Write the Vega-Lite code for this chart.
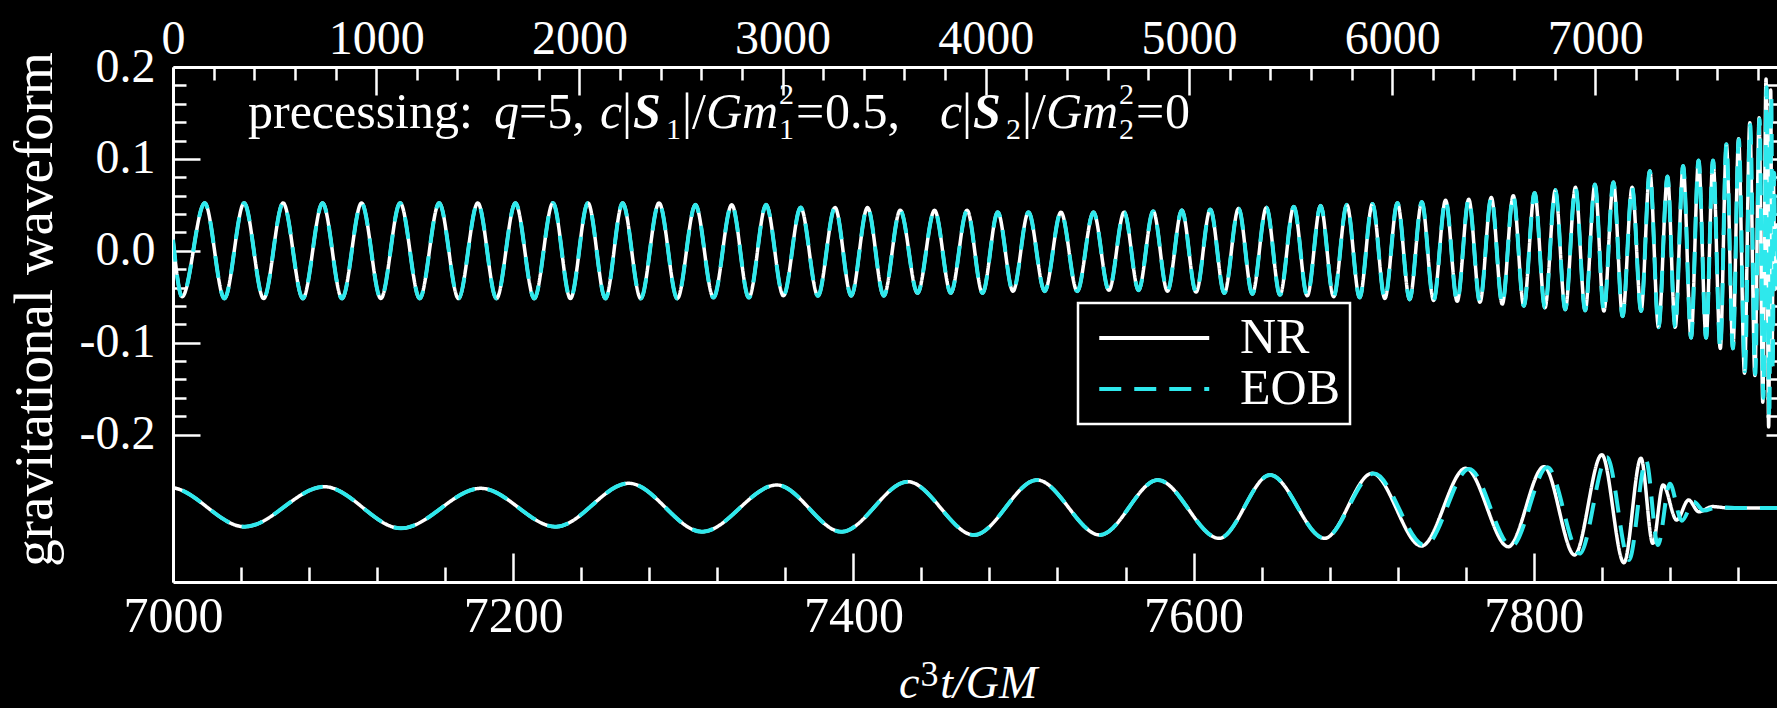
{
  "$schema": "https://vega.github.io/schema/vega-lite/v6.json",
  "background": "black",
  "autosize": {"type": "none"},
  "padding": {"left": 173, "top": 67, "right": 0, "bottom": 126},
  "width": 1604,
  "height": 515,
  "config": {
    "view": {"stroke": null},
    "axis": {
      "grid": false,
      "labelFont": "Liberation Serif",
      "labelColor": "white",
      "labelFontSize": 48,
      "labelFlush": false,
      "labelOverlap": false,
      "labelBound": false,
      "tickColor": "white",
      "tickWidth": 2.5,
      "domainColor": "white",
      "domainWidth": 3,
      "titleFont": "Liberation Serif",
      "titleColor": "white",
      "titleFontWeight": "normal"
    },
    "text": {"font": "Liberation Serif", "color": "white", "align": "left", "baseline": "alphabetic"},
    "legend": {
      "padding": 10,
      "strokeColor": "white",
      "strokeWidth": 2.5,
      "fillColor": "black",
      "symbolType": "M-1,0H7",
      "symbolSize": 756,
      "symbolStrokeWidth": 4,
      "labelFont": "Liberation Serif",
      "labelFontSize": 50,
      "labelColor": "white",
      "labelOffset": 102,
      "labelLimit": 400,
      "rowPadding": 1
    }
  },
  "datasets": {
    "nr": [
      {"t": 0, "h": 0.012}, {"t": 45, "h": -0.05}, {"t": 156, "h": 0.052}, {"t": 253, "h": -0.052},
      {"t": 350, "h": 0.052}, {"t": 446, "h": -0.052}, {"t": 542, "h": 0.052}, {"t": 639, "h": -0.052},
      {"t": 736, "h": 0.052}, {"t": 832, "h": -0.052}, {"t": 928, "h": 0.052}, {"t": 1023, "h": -0.052},
      {"t": 1118, "h": 0.052}, {"t": 1214, "h": -0.052}, {"t": 1310, "h": 0.052}, {"t": 1405, "h": -0.052},
      {"t": 1500, "h": 0.052}, {"t": 1592, "h": -0.052}, {"t": 1685, "h": 0.052}, {"t": 1778, "h": -0.052},
      {"t": 1870, "h": 0.052}, {"t": 1956, "h": -0.052}, {"t": 2042, "h": 0.052}, {"t": 2128, "h": -0.052},
      {"t": 2213, "h": 0.052}, {"t": 2302, "h": -0.052}, {"t": 2392, "h": 0.052}, {"t": 2482, "h": -0.052},
      {"t": 2571, "h": 0.05}, {"t": 2660, "h": -0.051}, {"t": 2750, "h": 0.05}, {"t": 2834, "h": -0.051},
      {"t": 2919, "h": 0.05}, {"t": 3004, "h": -0.049}, {"t": 3089, "h": 0.047}, {"t": 3174, "h": -0.049},
      {"t": 3258, "h": 0.047}, {"t": 3338, "h": -0.049}, {"t": 3418, "h": 0.047}, {"t": 3498, "h": -0.049},
      {"t": 3579, "h": 0.044}, {"t": 3664, "h": -0.046}, {"t": 3748, "h": 0.044}, {"t": 3828, "h": -0.046},
      {"t": 3908, "h": 0.044}, {"t": 3984, "h": -0.046}, {"t": 4059, "h": 0.042}, {"t": 4134, "h": -0.044},
      {"t": 4210, "h": 0.042}, {"t": 4290, "h": -0.044}, {"t": 4370, "h": 0.042}, {"t": 4450, "h": -0.044},
      {"t": 4530, "h": 0.042}, {"t": 4606, "h": -0.043}, {"t": 4681, "h": 0.042}, {"t": 4752, "h": -0.043},
      {"t": 4824, "h": 0.043}, {"t": 4894, "h": -0.044}, {"t": 4965, "h": 0.044}, {"t": 5035, "h": -0.045},
      {"t": 5105, "h": 0.045}, {"t": 5174, "h": -0.046}, {"t": 5244, "h": 0.046}, {"t": 5312, "h": -0.047},
      {"t": 5381, "h": 0.047}, {"t": 5448, "h": -0.048}, {"t": 5516, "h": 0.048}, {"t": 5582, "h": -0.049},
      {"t": 5648, "h": 0.049}, {"t": 5712, "h": -0.05}, {"t": 5777, "h": 0.05}, {"t": 5840, "h": -0.051},
      {"t": 5903, "h": 0.051}, {"t": 5964, "h": -0.052}, {"t": 6026, "h": 0.052}, {"t": 6086, "h": -0.053},
      {"t": 6146, "h": 0.053}, {"t": 6204, "h": -0.054}, {"t": 6263, "h": 0.055}, {"t": 6320, "h": -0.055},
      {"t": 6377, "h": 0.056}, {"t": 6432, "h": -0.056}, {"t": 6488, "h": 0.058}, {"t": 6542, "h": -0.058},
      {"t": 6596, "h": 0.06}, {"t": 6648, "h": -0.06}, {"t": 6701, "h": 0.063}, {"t": 6752, "h": -0.062},
      {"t": 6803, "h": 0.066}, {"t": 6852, "h": -0.064}, {"t": 6902, "h": 0.069}, {"t": 6950, "h": -0.065},
      {"t": 6998, "h": 0.072}, {"t": 7042, "h": -0.0656}, {"t": 7089, "h": 0.0747}, {"t": 7134, "h": -0.0712},
      {"t": 7181, "h": 0.0691}, {"t": 7225, "h": -0.0656}, {"t": 7268, "h": 0.0867}, {"t": 7311, "h": -0.0832},
      {"t": 7355, "h": 0.0807}, {"t": 7393, "h": -0.0832}, {"t": 7432, "h": 0.0923}, {"t": 7471, "h": -0.0947},
      {"t": 7508, "h": 0.0982}, {"t": 7545, "h": -0.0947}, {"t": 7579, "h": 0.0982}, {"t": 7615, "h": -0.1063},
      {"t": 7645, "h": 0.1158}, {"t": 7677, "h": -0.1063}, {"t": 7705, "h": 0.1218}, {"t": 7734, "h": -0.1333},
      {"t": 7760, "h": 0.1393}, {"t": 7785, "h": -0.1358}, {"t": 7806, "h": 0.1449}, {"t": 7824, "h": -0.1649},
      {"t": 7840, "h": 0.187}, {"t": 7853, "h": -0.192}, {"t": 7863, "h": 0.175}, {"t": 7870, "h": -0.124},
      {"t": 7876, "h": 0.081}, {"t": 7884, "h": -0.042}, {"t": 7891, "h": 0.028}, {"t": 7897, "h": -0.013},
      {"t": 7905, "h": 0.005}, {"t": 7915, "h": 0.0}, {"t": 7943, "h": 0.0}
    ],
    "eob": [
      {"t": 0, "h": 0.012}, {"t": 45, "h": -0.05}, {"t": 156, "h": 0.052}, {"t": 253, "h": -0.052},
      {"t": 350, "h": 0.052}, {"t": 446, "h": -0.052}, {"t": 542, "h": 0.052}, {"t": 639, "h": -0.052},
      {"t": 736, "h": 0.052}, {"t": 832, "h": -0.052}, {"t": 928, "h": 0.052}, {"t": 1023, "h": -0.052},
      {"t": 1118, "h": 0.052}, {"t": 1214, "h": -0.052}, {"t": 1310, "h": 0.052}, {"t": 1405, "h": -0.052},
      {"t": 1500, "h": 0.052}, {"t": 1592, "h": -0.052}, {"t": 1685, "h": 0.052}, {"t": 1778, "h": -0.052},
      {"t": 1870, "h": 0.052}, {"t": 1956, "h": -0.052}, {"t": 2042, "h": 0.052}, {"t": 2128, "h": -0.052},
      {"t": 2213, "h": 0.052}, {"t": 2302, "h": -0.052}, {"t": 2392, "h": 0.052}, {"t": 2482, "h": -0.052},
      {"t": 2571, "h": 0.05}, {"t": 2660, "h": -0.051}, {"t": 2750, "h": 0.05}, {"t": 2834, "h": -0.051},
      {"t": 2919, "h": 0.05}, {"t": 3004, "h": -0.049}, {"t": 3089, "h": 0.047}, {"t": 3174, "h": -0.049},
      {"t": 3258, "h": 0.047}, {"t": 3338, "h": -0.049}, {"t": 3418, "h": 0.047}, {"t": 3498, "h": -0.049},
      {"t": 3579, "h": 0.044}, {"t": 3664, "h": -0.046}, {"t": 3748, "h": 0.044}, {"t": 3828, "h": -0.046},
      {"t": 3908, "h": 0.044}, {"t": 3984, "h": -0.046}, {"t": 4059, "h": 0.042}, {"t": 4134, "h": -0.044},
      {"t": 4210, "h": 0.042}, {"t": 4290, "h": -0.044}, {"t": 4370, "h": 0.042}, {"t": 4450, "h": -0.044},
      {"t": 4530, "h": 0.042}, {"t": 4606, "h": -0.043}, {"t": 4681, "h": 0.042}, {"t": 4752, "h": -0.043},
      {"t": 4824, "h": 0.043}, {"t": 4894, "h": -0.044}, {"t": 4965, "h": 0.044}, {"t": 5035, "h": -0.045},
      {"t": 5105, "h": 0.045}, {"t": 5174, "h": -0.046}, {"t": 5244, "h": 0.046}, {"t": 5312, "h": -0.047},
      {"t": 5381, "h": 0.047}, {"t": 5448, "h": -0.048}, {"t": 5516, "h": 0.048}, {"t": 5582, "h": -0.049},
      {"t": 5648, "h": 0.049}, {"t": 5712, "h": -0.05}, {"t": 5777, "h": 0.05}, {"t": 5840, "h": -0.051},
      {"t": 5903, "h": 0.051}, {"t": 5964, "h": -0.052}, {"t": 6026, "h": 0.052}, {"t": 6086, "h": -0.053},
      {"t": 6146, "h": 0.053}, {"t": 6204, "h": -0.054}, {"t": 6263, "h": 0.055}, {"t": 6320, "h": -0.055},
      {"t": 6377, "h": 0.056}, {"t": 6432, "h": -0.056}, {"t": 6488, "h": 0.058}, {"t": 6542, "h": -0.058},
      {"t": 6596, "h": 0.06}, {"t": 6648, "h": -0.06}, {"t": 6701, "h": 0.063}, {"t": 6752, "h": -0.062},
      {"t": 6803, "h": 0.066}, {"t": 6852, "h": -0.064}, {"t": 6902, "h": 0.069}, {"t": 6950, "h": -0.065},
      {"t": 6998, "h": 0.072}, {"t": 7042, "h": -0.0656}, {"t": 7089, "h": 0.0747}, {"t": 7134, "h": -0.0712},
      {"t": 7181, "h": 0.0691}, {"t": 7225, "h": -0.0656}, {"t": 7268, "h": 0.0867}, {"t": 7311, "h": -0.0832},
      {"t": 7355, "h": 0.0807}, {"t": 7393, "h": -0.0832}, {"t": 7432, "h": 0.0923}, {"t": 7471, "h": -0.0947},
      {"t": 7508, "h": 0.0982}, {"t": 7545, "h": -0.0947}, {"t": 7579, "h": 0.0982}, {"t": 7615, "h": -0.1063},
      {"t": 7645, "h": 0.1158}, {"t": 7677, "h": -0.1063}, {"t": 7706, "h": 0.121}, {"t": 7736, "h": -0.131},
      {"t": 7762, "h": 0.137}, {"t": 7787, "h": -0.134}, {"t": 7808, "h": 0.143}, {"t": 7827, "h": -0.16},
      {"t": 7843, "h": 0.178}, {"t": 7856, "h": -0.182}, {"t": 7866, "h": 0.168}, {"t": 7873, "h": -0.13},
      {"t": 7880, "h": 0.085}, {"t": 7887, "h": -0.045}, {"t": 7894, "h": 0.022}, {"t": 7900, "h": -0.009},
      {"t": 7908, "h": 0.003}, {"t": 7918, "h": 0.0}, {"t": 7943, "h": 0.0}
    ]
  },
  "layer": [
    {
      "layer": [
        {
          "data": {"name": "nr"},
          "mark": {"type": "line", "interpolate": "monotone", "strokeWidth": 3.5, "clip": true},
          "encoding": {
            "x": {
              "field": "t", "type": "quantitative",
              "scale": {"domain": [0, 7894], "nice": false, "zero": false},
              "axis": {
                "orient": "top", "values": [0, 1000, 2000, 3000, 4000, 5000, 6000, 7000], "format": "d",
                "tickSize": -28, "labelPadding": 32, "title": null
              }
            },
            "y": {
              "field": "h", "type": "quantitative",
              "scale": {"domain": [-0.3605, 0.2], "nice": false, "zero": false},
              "axis": {
                "orient": "left", "values": [-0.2, -0.1, 0, 0.1, 0.2],
                "labelExpr": "datum.value < 0 ? '-' + format(-datum.value, '.1f') : format(datum.value, '.1f')",
                "tickSize": -27, "labelPadding": 45,
                "title": "gravitational waveform", "titleFontSize": 55,
                "titleAngle": 270, "titleAlign": "center", "titleBaseline": "bottom",
                "titleX": -110, "titleY": 242
              }
            },
            "color": {
              "datum": "NR",
              "scale": {"domain": ["NR", "EOB"], "range": ["#ffffff", "#2ee8ec"]},
              "legend": {"title": null, "orient": "none", "legendX": 905, "legendY": 236}
            },
            "strokeDash": {
              "datum": "NR",
              "scale": {"domain": ["NR", "EOB"], "range": [[1, 0], [22, 13]]},
              "legend": {"title": null, "orient": "none", "legendX": 905, "legendY": 236}
            }
          }
        },
        {
          "data": {"name": "eob"},
          "mark": {"type": "line", "interpolate": "monotone", "strokeWidth": 4, "clip": true},
          "encoding": {
            "x": {
              "field": "t", "type": "quantitative",
              "axis": {
                "orient": "top", "labels": false, "domain": false, "tickSize": -13, "title": null,
                "values": [200, 400, 600, 800, 1200, 1400, 1600, 1800, 2200, 2400, 2600, 2800, 3200, 3400, 3600, 3800, 4200, 4400, 4600, 4800, 5200, 5400, 5600, 5800, 6200, 6400, 6600, 6800, 7200, 7400, 7600, 7800]
              }
            },
            "y": {
              "field": "h", "type": "quantitative",
              "axis": {
                "orient": "left", "labels": false, "domain": false, "tickSize": -13, "title": null,
                "values": [-0.18, -0.16, -0.14, -0.12, -0.08, -0.06, -0.04, -0.02, 0.02, 0.04, 0.06, 0.08, 0.12, 0.14, 0.16, 0.18]
              }
            },
            "color": {"datum": "EOB"},
            "strokeDash": {"datum": "EOB"}
          }
        },
        {
          "mark": {"type": "rule", "color": "white", "strokeWidth": 3},
          "encoding": {
            "x": {"datum": 7840, "axis": null},
            "y": {
              "datum": -0.2,
              "axis": {
                "orient": "right", "offset": -11, "labels": false, "domain": false, "tickSize": 12, "title": null,
                "values": [-0.2, -0.18, -0.16, -0.14, -0.12, -0.1, -0.08, -0.06, -0.04, -0.02, 0, 0.02, 0.04, 0.06, 0.08, 0.1, 0.12, 0.14, 0.16, 0.18, 0.2]
              }
            },
            "y2": {"datum": 0.2}
          }
        },
        {
          "mark": {"type": "rule", "color": "white", "strokeWidth": 3},
          "encoding": {"y": {"datum": -0.2, "axis": null}}
        },
        {
          "data": {"values": [{}]},
          "layer": [
            {"mark": {"type": "text", "fontSize": 50},
             "encoding": {"text": {"value": "precessing:"}, "x": {"datum": 369, "axis": null}, "y": {"datum": 0.1336, "axis": null}}},
            {"mark": {"type": "text", "fontSize": 50, "fontStyle": "italic"},
             "encoding": {"text": {"value": "q"}, "x": {"datum": 1580, "axis": null}, "y": {"datum": 0.1336, "axis": null}}},
            {"mark": {"type": "text", "fontSize": 50},
             "encoding": {"text": {"value": "=5,"}, "x": {"datum": 1703, "axis": null}, "y": {"datum": 0.1336, "axis": null}}},
            {"mark": {"type": "text", "fontSize": 50, "fontStyle": "italic"},
             "encoding": {"text": {"value": "c"}, "x": {"datum": 2101, "axis": null}, "y": {"datum": 0.1336, "axis": null}}},
            {"mark": {"type": "text", "fontSize": 50},
             "encoding": {"text": {"value": "|"}, "x": {"datum": 2210, "axis": null}, "y": {"datum": 0.1336, "axis": null}}},
            {"mark": {"type": "text", "fontSize": 50, "fontStyle": "italic", "fontWeight": "bold"},
             "encoding": {"text": {"value": "S"}, "x": {"datum": 2264, "axis": null}, "y": {"datum": 0.1336, "axis": null}}},
            {"mark": {"type": "text", "fontSize": 30},
             "encoding": {"text": {"value": "1"}, "x": {"datum": 2426, "axis": null}, "y": {"datum": 0.1216, "axis": null}}},
            {"mark": {"type": "text", "fontSize": 50},
             "encoding": {"text": {"value": "|/"}, "x": {"datum": 2505, "axis": null}, "y": {"datum": 0.1336, "axis": null}}},
            {"mark": {"type": "text", "fontSize": 50, "fontStyle": "italic"},
             "encoding": {"text": {"value": "Gm"}, "x": {"datum": 2623, "axis": null}, "y": {"datum": 0.1336, "axis": null}}},
            {"mark": {"type": "text", "fontSize": 30},
             "encoding": {"text": {"value": "2"}, "x": {"datum": 2982, "axis": null}, "y": {"datum": 0.1597, "axis": null}}},
            {"mark": {"type": "text", "fontSize": 30},
             "encoding": {"text": {"value": "1"}, "x": {"datum": 2982, "axis": null}, "y": {"datum": 0.1216, "axis": null}}},
            {"mark": {"type": "text", "fontSize": 50},
             "encoding": {"text": {"value": "="}, "x": {"datum": 3066, "axis": null}, "y": {"datum": 0.1336, "axis": null}}},
            {"mark": {"type": "text", "fontSize": 50},
             "encoding": {"text": {"value": "0.5,"}, "x": {"datum": 3209, "axis": null}, "y": {"datum": 0.1336, "axis": null}}},
            {"mark": {"type": "text", "fontSize": 50, "fontStyle": "italic"},
             "encoding": {"text": {"value": "c"}, "x": {"datum": 3775, "axis": null}, "y": {"datum": 0.1336, "axis": null}}},
            {"mark": {"type": "text", "fontSize": 50},
             "encoding": {"text": {"value": "|"}, "x": {"datum": 3883, "axis": null}, "y": {"datum": 0.1336, "axis": null}}},
            {"mark": {"type": "text", "fontSize": 50, "fontStyle": "italic", "fontWeight": "bold"},
             "encoding": {"text": {"value": "S"}, "x": {"datum": 3937, "axis": null}, "y": {"datum": 0.1336, "axis": null}}},
            {"mark": {"type": "text", "fontSize": 30},
             "encoding": {"text": {"value": "2"}, "x": {"datum": 4099, "axis": null}, "y": {"datum": 0.1216, "axis": null}}},
            {"mark": {"type": "text", "fontSize": 50},
             "encoding": {"text": {"value": "|/"}, "x": {"datum": 4178, "axis": null}, "y": {"datum": 0.1336, "axis": null}}},
            {"mark": {"type": "text", "fontSize": 50, "fontStyle": "italic"},
             "encoding": {"text": {"value": "Gm"}, "x": {"datum": 4296, "axis": null}, "y": {"datum": 0.1336, "axis": null}}},
            {"mark": {"type": "text", "fontSize": 30},
             "encoding": {"text": {"value": "2"}, "x": {"datum": 4656, "axis": null}, "y": {"datum": 0.1597, "axis": null}}},
            {"mark": {"type": "text", "fontSize": 30},
             "encoding": {"text": {"value": "2"}, "x": {"datum": 4656, "axis": null}, "y": {"datum": 0.1216, "axis": null}}},
            {"mark": {"type": "text", "fontSize": 50},
             "encoding": {"text": {"value": "="}, "x": {"datum": 4739, "axis": null}, "y": {"datum": 0.1336, "axis": null}}},
            {"mark": {"type": "text", "fontSize": 50},
             "encoding": {"text": {"value": "0"}, "x": {"datum": 4882, "axis": null}, "y": {"datum": 0.1336, "axis": null}}}
          ]
        }
      ],
      "resolve": {"axis": {"x": "independent", "y": "independent"}}
    },
    {
      "layer": [
        {
          "data": {"name": "nr"},
          "transform": [{"filter": "datum.t >= 6950"}],
          "mark": {"type": "line", "interpolate": "monotone", "strokeWidth": 3.5, "clip": true},
          "encoding": {
            "x": {
              "field": "t", "type": "quantitative",
              "scale": {"domain": [7000, 7943], "nice": false, "zero": false},
              "axis": {
                "orient": "bottom", "values": [7000, 7200, 7400, 7600, 7800], "format": "d",
                "tickSize": -29, "labelPadding": 38, "labelFontSize": 50, "title": null
              }
            },
            "y": {
              "field": "h", "type": "quantitative",
              "scale": {"domain": [-0.2596, 1.5474], "nice": false, "zero": false},
              "axis": null
            },
            "color": {"datum": "NR"},
            "strokeDash": {"datum": "NR"}
          }
        },
        {
          "data": {"name": "eob"},
          "transform": [{"filter": "datum.t >= 6950"}],
          "mark": {"type": "line", "interpolate": "monotone", "strokeWidth": 4, "clip": true},
          "encoding": {
            "x": {
              "field": "t", "type": "quantitative",
              "axis": {
                "orient": "bottom", "labels": false, "domain": false, "tickSize": -15, "title": null,
                "values": [7040, 7080, 7120, 7160, 7240, 7280, 7320, 7360, 7440, 7480, 7520, 7560, 7640, 7680, 7720, 7760, 7840, 7880, 7920]
              }
            },
            "y": {"field": "h", "type": "quantitative", "axis": null},
            "color": {"datum": "EOB"},
            "strokeDash": {"datum": "EOB"}
          }
        },
        {
          "data": {"values": [{}]},
          "layer": [
            {"mark": {"type": "text", "fontSize": 46, "fontStyle": "italic"},
             "encoding": {"text": {"value": "c"}, "x": {"datum": 7426.8, "axis": null}, "y": {"datum": -0.6667, "axis": null}}},
            {"mark": {"type": "text", "fontSize": 36},
             "encoding": {"text": {"value": "3"}, "x": {"datum": 7439.5, "axis": null}, "y": {"datum": -0.6246, "axis": null}}},
            {"mark": {"type": "text", "fontSize": 46, "fontStyle": "italic"},
             "encoding": {"text": {"value": "t/GM"}, "x": {"datum": 7451, "axis": null}, "y": {"datum": -0.6667, "axis": null}}}
          ]
        }
      ],
      "resolve": {"axis": {"x": "independent"}}
    }
  ],
  "resolve": {
    "scale": {"x": "independent", "y": "independent"},
    "axis": {"x": "independent", "y": "independent"}
  }
}
